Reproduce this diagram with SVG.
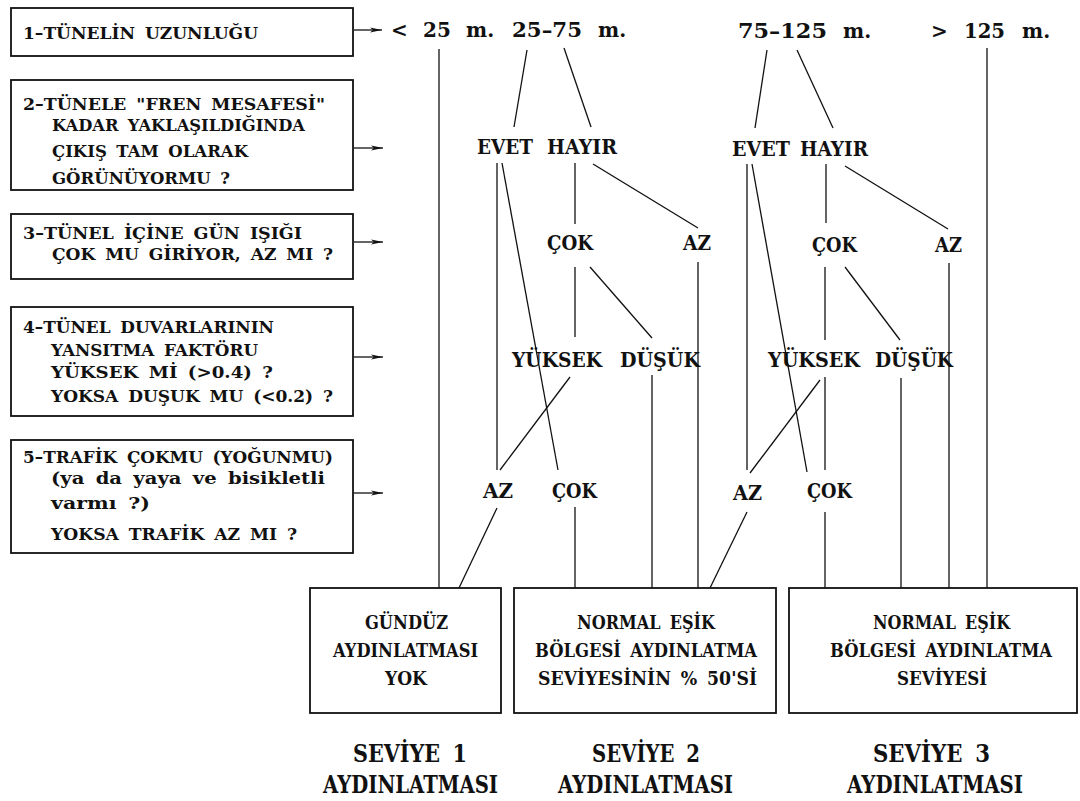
<svg xmlns="http://www.w3.org/2000/svg" width="1080" height="801" viewBox="0 0 1080 801">
<style>
text{font-family:"DejaVu Serif","Liberation Serif",serif;font-weight:bold;fill:#111}
.q{font-size:17.5px;word-spacing:4px}
.top{font-size:20px}
.lab{font-size:19.5px}
.res{font-size:18px;word-spacing:4px}
.lvl{font-size:24px;word-spacing:6px}
.box{fill:none;stroke:#111;stroke-width:1.8}
.c line{stroke:#111;stroke-width:1.3}
.arr{stroke:#111;stroke-width:1.4;marker-end:url(#ah)}
</style>
<defs>
<marker id="ah" viewBox="0 0 12 6" refX="12" refY="3" markerWidth="12" markerHeight="6" markerUnits="userSpaceOnUse" orient="auto">
<path d="M0,0.5 L12,3 L0,5.5 L3,3 z" fill="#111"/>
</marker>
</defs>
<rect width="1080" height="801" fill="#fff"/>

<g id="q1">
<rect class="box" x="11" y="8" width="342" height="48"/>
<text class="q" x="23" y="39" textLength="235" lengthAdjust="spacingAndGlyphs">1–TÜNELİN UZUNLUĞU</text>
</g>
<g id="q2">
<rect class="box" x="11" y="80" width="342" height="110"/>
<text class="q" x="23" y="110" textLength="302" lengthAdjust="spacingAndGlyphs">2–TÜNELE "FREN MESAFESİ"</text>
<text class="q" x="52" y="131" textLength="253" lengthAdjust="spacingAndGlyphs">KADAR YAKLAŞILDIĞINDA</text>
<text class="q" x="52" y="157" textLength="196" lengthAdjust="spacingAndGlyphs">ÇIKIŞ TAM OLARAK</text>
<text class="q" x="52" y="184" textLength="178" lengthAdjust="spacingAndGlyphs">GÖRÜNÜYORMU ?</text>
</g>
<g id="q3">
<rect class="box" x="11" y="214" width="342" height="65"/>
<text class="q" x="23" y="239" textLength="279" lengthAdjust="spacingAndGlyphs">3–TÜNEL İÇİNE GÜN IŞIĞI</text>
<text class="q" x="52" y="260" textLength="281" lengthAdjust="spacingAndGlyphs">ÇOK MU GİRİYOR, AZ MI ?</text>
</g>
<g id="q4">
<rect class="box" x="11" y="307" width="342" height="109"/>
<text class="q" x="23" y="333" textLength="251" lengthAdjust="spacingAndGlyphs">4–TÜNEL DUVARLARININ</text>
<text class="q" x="51" y="356" textLength="207" lengthAdjust="spacingAndGlyphs">YANSITMA FAKTÖRU</text>
<text class="q" x="51" y="378" textLength="222" lengthAdjust="spacingAndGlyphs">YÜKSEK Mİ (&gt;0.4) ?</text>
<text class="q" x="51" y="402" textLength="282" lengthAdjust="spacingAndGlyphs">YOKSA DUŞUK MU (&lt;0.2) ?</text>
</g>
<g id="q5">
<rect class="box" x="11" y="440" width="342" height="113"/>
<text class="q" x="23" y="463" textLength="310" lengthAdjust="spacingAndGlyphs">5–TRAFİK ÇOKMU (YOĞUNMU)</text>
<text class="q" x="51" y="484" textLength="274" lengthAdjust="spacingAndGlyphs">(ya da yaya ve bisikletli</text>
<text class="q" x="51" y="509" textLength="99" lengthAdjust="spacingAndGlyphs">varmı ?)</text>
<text class="q" x="51" y="540" textLength="246" lengthAdjust="spacingAndGlyphs">YOKSA TRAFİK AZ MI ?</text>
</g>

<g id="len-lt25"><text class="top" y="37"><tspan x="391">&lt;</tspan> <tspan x="423">25</tspan> <tspan x="466">m.</tspan></text></g>
<g id="len-25-75"><text class="top" y="37"><tspan x="512" textLength="70" lengthAdjust="spacingAndGlyphs">25–75</tspan> <tspan x="598">m.</tspan></text></g>
<g id="len-75-125"><text class="top" y="38"><tspan x="738" textLength="89" lengthAdjust="spacingAndGlyphs">75–125</tspan> <tspan x="843">m.</tspan></text></g>
<g id="len-gt125"><text class="top" y="38"><tspan x="931">&gt;</tspan> <tspan x="964" textLength="41" lengthAdjust="spacingAndGlyphs">125</tspan> <tspan x="1022">m.</tspan></text></g>

<g id="a-evet"><text class="lab" x="477" y="154" textLength="56" lengthAdjust="spacingAndGlyphs">EVET</text></g>
<g id="a-hayir"><text class="lab" x="547" y="154" textLength="70" lengthAdjust="spacingAndGlyphs">HAYIR</text></g>
<g id="a-cok"><text class="lab" x="547" y="250" textLength="46" lengthAdjust="spacingAndGlyphs">ÇOK</text></g>
<g id="a-az"><text class="lab" x="683" y="250" textLength="28" lengthAdjust="spacingAndGlyphs">AZ</text></g>
<g id="a-yuksek"><text class="lab" x="512" y="367" textLength="90" lengthAdjust="spacingAndGlyphs">YÜKSEK</text></g>
<g id="a-dusuk"><text class="lab" x="620" y="367" textLength="80" lengthAdjust="spacingAndGlyphs">DÜŞÜK</text></g>
<g id="a-az2"><text class="lab" x="483" y="498" textLength="30" lengthAdjust="spacingAndGlyphs">AZ</text></g>
<g id="a-cok2"><text class="lab" x="552" y="498" textLength="45" lengthAdjust="spacingAndGlyphs">ÇOK</text></g>

<g id="b-evet"><text class="lab" x="732" y="156" textLength="58" lengthAdjust="spacingAndGlyphs">EVET</text></g>
<g id="b-hayir"><text class="lab" x="800" y="156" textLength="68" lengthAdjust="spacingAndGlyphs">HAYIR</text></g>
<g id="b-cok"><text class="lab" x="812" y="252" textLength="45" lengthAdjust="spacingAndGlyphs">ÇOK</text></g>
<g id="b-az"><text class="lab" x="935" y="252" textLength="27" lengthAdjust="spacingAndGlyphs">AZ</text></g>
<g id="b-yuksek"><text class="lab" x="768" y="367" textLength="92" lengthAdjust="spacingAndGlyphs">YÜKSEK</text></g>
<g id="b-dusuk"><text class="lab" x="875" y="367" textLength="78" lengthAdjust="spacingAndGlyphs">DÜŞÜK</text></g>
<g id="b-az2"><text class="lab" x="733" y="500" textLength="29" lengthAdjust="spacingAndGlyphs">AZ</text></g>
<g id="b-cok2"><text class="lab" x="807" y="498" textLength="45" lengthAdjust="spacingAndGlyphs">ÇOK</text></g>

<g id="r1">
<rect class="box" x="310" y="588" width="191" height="125"/>
<text class="res" x="365" y="629" textLength="83" lengthAdjust="spacingAndGlyphs">GÜNDÜZ</text>
<text class="res" x="333" y="657" textLength="145" lengthAdjust="spacingAndGlyphs">AYDINLATMASI</text>
<text class="res" x="385" y="685" textLength="42" lengthAdjust="spacingAndGlyphs">YOK</text>
</g>
<g id="r2">
<rect class="box" x="514" y="588" width="262" height="125"/>
<text class="res" x="577" y="629" textLength="138" lengthAdjust="spacingAndGlyphs">NORMAL EŞİK</text>
<text class="res" x="535" y="657" textLength="222" lengthAdjust="spacingAndGlyphs">BÖLGESİ AYDINLATMA</text>
<text class="res" x="538" y="685" textLength="219" lengthAdjust="spacingAndGlyphs">SEVİYESİNİN % 50'Sİ</text>
</g>
<g id="r3">
<rect class="box" x="789" y="588" width="288" height="125"/>
<text class="res" x="873" y="629" textLength="137" lengthAdjust="spacingAndGlyphs">NORMAL EŞİK</text>
<text class="res" x="830" y="657" textLength="222" lengthAdjust="spacingAndGlyphs">BÖLGESİ AYDINLATMA</text>
<text class="res" x="897" y="685" textLength="90" lengthAdjust="spacingAndGlyphs">SEVİYESİ</text>
</g>

<g id="lvl1">
<text class="lvl" x="353" y="762" textLength="114" lengthAdjust="spacingAndGlyphs">SEVİYE 1</text>
<text class="lvl" x="323" y="793" textLength="175" lengthAdjust="spacingAndGlyphs">AYDINLATMASI</text>
</g>
<g id="lvl2">
<text class="lvl" x="592" y="762" textLength="108" lengthAdjust="spacingAndGlyphs">SEVİYE 2</text>
<text class="lvl" x="558" y="793" textLength="175" lengthAdjust="spacingAndGlyphs">AYDINLATMASI</text>
</g>
<g id="lvl3">
<text class="lvl" x="873" y="762" textLength="117" lengthAdjust="spacingAndGlyphs">SEVİYE 3</text>
<text class="lvl" x="847" y="793" textLength="176" lengthAdjust="spacingAndGlyphs">AYDINLATMASI</text>
</g>

<g id="connectors" class="c">
<line class="arr" x1="354" y1="30" x2="382" y2="30"/>
<line class="arr" x1="354" y1="148" x2="383" y2="148"/>
<line class="arr" x1="354" y1="242" x2="383" y2="242"/>
<line class="arr" x1="354" y1="357" x2="383" y2="357"/>
<line class="arr" x1="354" y1="493" x2="383" y2="493"/>

<line x1="439" y1="49" x2="439" y2="588"/>
<line x1="527" y1="50" x2="514" y2="127"/>
<line x1="564" y1="48" x2="591" y2="127"/>
<line x1="497" y1="163" x2="497" y2="470"/>
<line x1="502" y1="163" x2="558" y2="470"/>
<line x1="575" y1="163" x2="575" y2="224"/>
<line x1="593" y1="164" x2="698" y2="228"/>
<line x1="575" y1="267" x2="575" y2="337"/>
<line x1="590" y1="267" x2="652" y2="338"/>
<line x1="698" y1="262" x2="698" y2="588"/>
<line x1="570" y1="377" x2="500" y2="470"/>
<line x1="652" y1="375" x2="652" y2="588"/>
<line x1="497" y1="508" x2="459" y2="588"/>
<line x1="575" y1="507" x2="575" y2="588"/>

<line x1="767" y1="50" x2="755" y2="128"/>
<line x1="797" y1="50" x2="833" y2="128"/>
<line x1="747" y1="164" x2="747" y2="470"/>
<line x1="752" y1="164" x2="807" y2="472"/>
<line x1="826" y1="164" x2="826" y2="223"/>
<line x1="845" y1="166" x2="948" y2="229"/>
<line x1="825" y1="267" x2="825" y2="340"/>
<line x1="845" y1="267" x2="900" y2="340"/>
<line x1="949" y1="263" x2="949" y2="588"/>
<line x1="825" y1="377" x2="825" y2="470"/>
<line x1="820" y1="380" x2="750" y2="473"/>
<line x1="901" y1="378" x2="901" y2="588"/>
<line x1="747" y1="512" x2="710" y2="588"/>
<line x1="825" y1="512" x2="825" y2="588"/>
<line x1="987" y1="48" x2="987" y2="588"/>
</g>
</svg>
